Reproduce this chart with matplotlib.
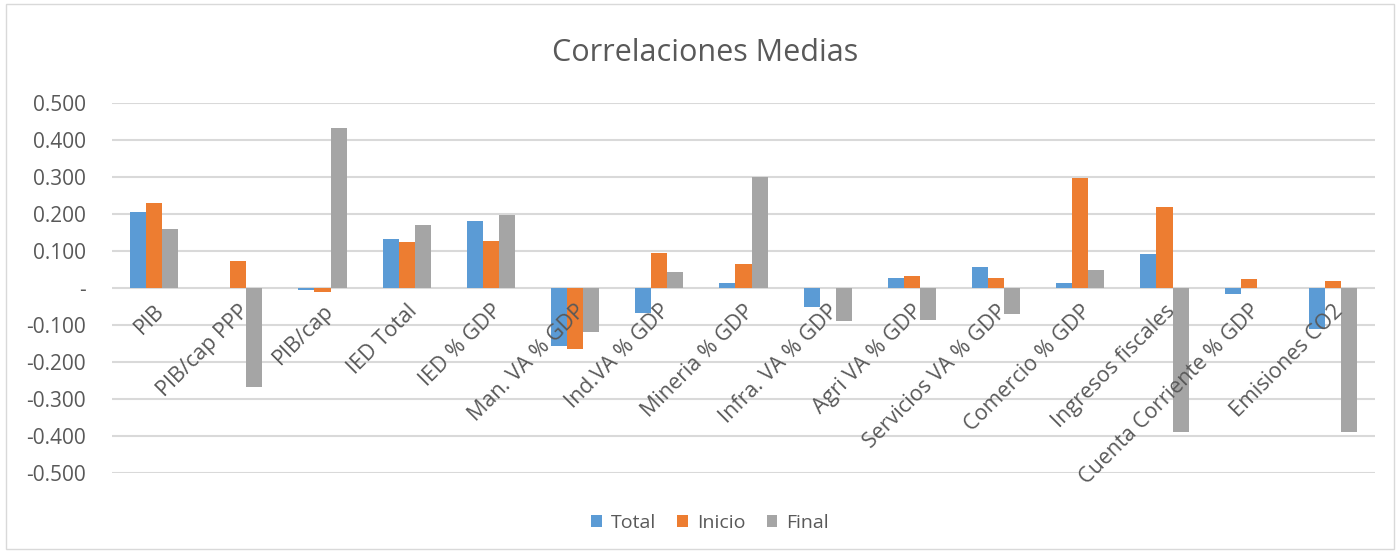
import numpy as np
import matplotlib.pyplot as plt
from matplotlib.patches import Rectangle

plt.rcParams['font.family'] = ['Open Sans', 'DejaVu Sans']

categorias = ['PIB', 'PIB/cap PPP', 'PIB/cap', 'IED Total', 'IED % GDP',
              'Man. VA % GDP', 'Ind.VA % GDP', 'Mineria % GDP', 'Infra. VA % GDP',
              'Agri VA % GDP', 'Servicios VA % GDP', 'Comercio % GDP',
              'Ingresos fiscales', 'Cuenta Corriente % GDP', 'Emisiones CO2']
total = [0.206, 0.0, -0.005, 0.132, 0.180, -0.156, -0.067, 0.013, -0.050,
         0.027, 0.056, 0.013, 0.093, -0.017, -0.112]
inicio = [0.230, 0.073, -0.012, 0.123, 0.126, -0.164, 0.095, 0.065, 0.0,
          0.033, 0.026, 0.297, 0.220, 0.023, 0.019]
final = [0.159, -0.268, 0.433, 0.170, 0.197, -0.119, 0.043, 0.300, -0.090,
         -0.087, -0.070, 0.049, -0.390, 0.0, -0.390]
yticks = [0.5, 0.4, 0.3, 0.2, 0.1, 0.0, -0.1, -0.2, -0.3, -0.4, -0.5]

azul = '#5B9BD5'
naranja = '#ED7D31'
gris = '#A5A5A5'
texto = '#595959'

fig = plt.figure(figsize=(14, 5.53), dpi=100)
ax = fig.add_axes([112/1400, 1-473/553, (1375-112)/1400, (473-103)/553])

x = np.arange(len(categorias))
w = 1/5.25
ax.bar(x - w, total, w, color=azul, label='Total', zorder=3)
ax.bar(x, inicio, w, color=naranja, label='Inicio', zorder=3)
ax.bar(x + w, final, w, color=gris, label='Final', zorder=3)

ax.set_xlim(-0.5, len(categorias) - 0.5)
ax.set_ylim(-0.5, 0.5)
ax.set_yticks(yticks)
ax.set_yticklabels(['-' if v == 0 else '{:.3f}'.format(v) for v in yticks])
ax.tick_params(axis='y', length=0, pad=19, labelsize=15, labelcolor=texto)
ax.set_xticks([])
ax.grid(axis='y', color='#D9D9D9', lw=1.5, zorder=0)
for s in ax.spines.values():
    s.set_visible(False)

# etiquetas junto al eje cero, como en Excel
for i, c in enumerate(categorias):
    ax.text(i + 0.0, -0.034, c, rotation=45, ha='right', va='top',
            rotation_mode='anchor', fontsize=15.5, color=texto)

fig.text(705/1400, 1-53/553, 'Correlaciones Medias', ha='center', va='center',
         fontsize=22, color=texto)
fig.legend(loc='center', bbox_to_anchor=(710/1400, 1-523/553), ncol=3, frameon=False,
           fontsize=14, labelcolor=texto, handlelength=0.55, handleheight=0.55,
           handletextpad=0.45, columnspacing=1.1)

fig.patches.append(Rectangle((6/1400, 4/553), 1388/1400, 545/553, transform=fig.transFigure,
                             fill=False, edgecolor='#D9D9D9', lw=1))

fig.savefig('out.png', dpi=100, facecolor='white')
